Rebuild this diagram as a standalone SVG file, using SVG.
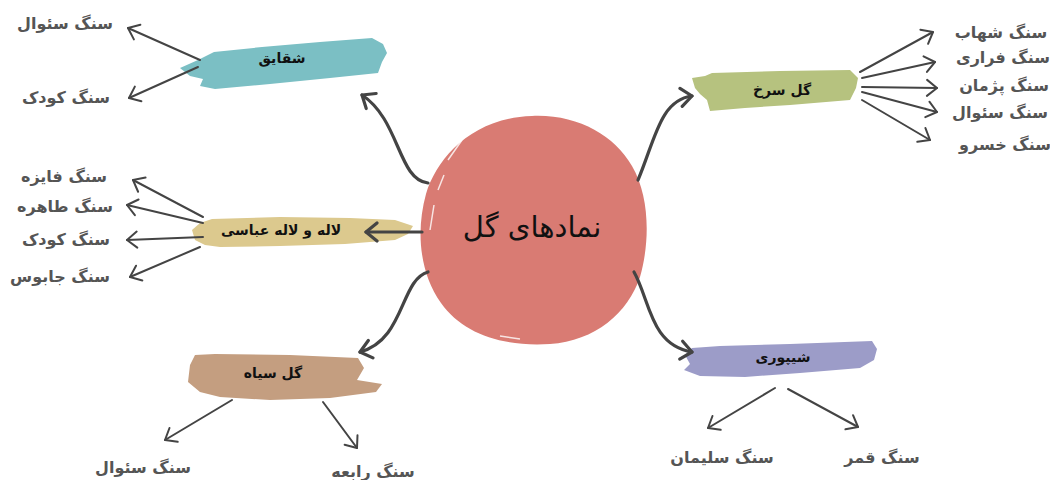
<svg xmlns="http://www.w3.org/2000/svg" width="1050" height="480" viewBox="0 0 1050 480">
<style>
.leaf{font-family:"DejaVu Sans","Noto Sans",sans-serif;font-size:16px;font-weight:bold;fill:#555;direction:rtl;}
.node{font-family:"DejaVu Sans","Noto Sans",sans-serif;font-size:14px;font-weight:bold;fill:#111;direction:rtl;}
.main{stroke:#444;stroke-width:3.2;fill:none;stroke-linecap:round;}
.thin{stroke:#444;stroke-width:2;fill:none;stroke-linecap:round;}
</style>
<defs>
<marker id="ah" markerUnits="userSpaceOnUse" markerWidth="22" markerHeight="24" refX="13" refY="11" orient="auto" viewBox="0 0 22 22">
<path d="M2,2 L13,11 L2,20" fill="none" stroke="#444" stroke-width="3.2" stroke-linecap="round" stroke-linejoin="round"/>
</marker>
<marker id="at" markerUnits="userSpaceOnUse" markerWidth="20" markerHeight="20" refX="12" refY="10" orient="auto" viewBox="0 0 20 20">
<path d="M2,2 L12,10 L2,18" fill="none" stroke="#444" stroke-width="2" stroke-linecap="round" stroke-linejoin="round"/>
</marker>
</defs>
<rect width="1050" height="480" fill="#fff"/>

<g id="center">
<path d="M532,116 C577,114 614,135 632,166 C650,197 650,242 640,277 C628,313 595,341 550,344 C503,347 463,334 441,303 C419,272 416,230 426,194 C437,158 472,118 532,116 Z" fill="#d97b73"/>
<path d="M448,160 L462,140 M438,190 L444,175 M430,230 L434,205 M640,290 L632,310 M500,336 L520,339" stroke="#fff" stroke-width="1.5" fill="none" opacity="0.8"/>
<text x="532" y="237" font-family="DejaVu Sans, Noto Sans, sans-serif" font-size="29" fill="#111" text-anchor="middle" direction="rtl">نمادهای گل</text>
</g>

<g id="n-shaghayegh">
<path d="M180,68 L198,60 L214,52 L262,47 L320,42 L372,38 L383,44 L387,53 L382,62 L378,73 L330,78 L270,84 L215,89 L200,86 L203,79 L190,76 Z" fill="#7bbfc4"/>
<text class="node" x="282" y="63" text-anchor="middle">شقایق</text>
</g>

<g id="n-golsorkh">
<path d="M692,78 L705,76 L712,73 L780,71 L850,70 L858,78 L856,88 L850,100 L790,105 L745,108 L710,111 L707,100 L700,94 L695,88 Z" fill="#b6c27f"/>
<text class="node" x="782" y="95" text-anchor="middle">گل سرخ</text>
</g>

<g id="n-laleh">
<path d="M192,230 L200,223 L212,219 L280,217 L350,218 L395,220 L413,226 L408,234 L395,240 L345,244 L280,246 L220,247 L205,245 L195,240 Z" fill="#dcc98e"/>
<text class="node" x="281" y="235" text-anchor="middle">لاله و لاله عباسی</text>
</g>

<g id="n-golsiah">
<path d="M190,365 L195,355 L215,354 L290,355 L358,358 L364,368 L357,380 L382,384 L376,392 L330,398 L270,400 L220,397 L200,392 L188,382 Z" fill="#c49e80"/>
<text class="node" x="273" y="378" text-anchor="middle">گل سیاه</text>
</g>

<g id="n-sheypouri">
<path d="M685,355 L692,348 L720,346 L790,344 L872,341 L877,349 L874,360 L860,368 L800,373 L745,377 L700,376 L684,370 L690,364 Z" fill="#9c9cc8"/>
<text class="node" x="783" y="362" text-anchor="middle">شیپوری</text>
</g>

<g id="leaves">
<text class="leaf" x="65" y="29" text-anchor="middle">سنگ سئوال</text>
<text class="leaf" x="66" y="103" text-anchor="middle">سنگ کودک</text>
<text class="leaf" x="1001" y="38" text-anchor="middle">سنگ شهاب</text>
<text class="leaf" x="1003" y="63" text-anchor="middle">سنگ فراری</text>
<text class="leaf" x="1004" y="91" text-anchor="middle">سنگ پژمان</text>
<text class="leaf" x="1000" y="118" text-anchor="middle">سنگ سئوال</text>
<text class="leaf" x="1005" y="150" text-anchor="middle">سنگ خسرو</text>
<text class="leaf" x="64" y="182" text-anchor="middle">سنگ فایزه</text>
<text class="leaf" x="65" y="212" text-anchor="middle">سنگ طاهره</text>
<text class="leaf" x="66" y="245" text-anchor="middle">سنگ کودک</text>
<text class="leaf" x="60" y="282" text-anchor="middle">سنگ جابوس</text>
<text class="leaf" x="143" y="473" text-anchor="middle">سنگ سئوال</text>
<text class="leaf" x="373" y="477" text-anchor="middle">سنگ رابعه</text>
<text class="leaf" x="722" y="463" text-anchor="middle">سنگ سلیمان</text>
<text class="leaf" x="882" y="463" text-anchor="middle">سنگ قمر</text>
</g>

<g id="connectors">
<path class="main" d="M428,183 C398,180 400,120 362,95" marker-end="url(#ah)"/>
<path class="main" d="M638,180 C655,140 660,100 692,96" marker-end="url(#ah)"/>
<path class="main" d="M422,232 L366,232" marker-end="url(#ah)"/>
<path class="main" d="M428,272 C400,280 405,340 360,352" marker-end="url(#ah)"/>
<path class="main" d="M634,272 C650,300 650,345 692,352" marker-end="url(#ah)"/>

<path class="thin" d="M200,60 L128,28" marker-end="url(#at)"/>
<path class="thin" d="M198,67 L129,98" marker-end="url(#at)"/>

<path class="thin" d="M860,72 L933,32" marker-end="url(#at)"/>
<path class="thin" d="M862,78 L935,62" marker-end="url(#at)"/>
<path class="thin" d="M862,87 L937,88" marker-end="url(#at)"/>
<path class="thin" d="M862,92 L937,112" marker-end="url(#at)"/>
<path class="thin" d="M862,100 L930,140" marker-end="url(#at)"/>

<path class="thin" d="M203,217 L133,180" marker-end="url(#at)"/>
<path class="thin" d="M203,223 L127,205" marker-end="url(#at)"/>
<path class="thin" d="M203,237 L127,240" marker-end="url(#at)"/>
<path class="thin" d="M200,247 L130,277" marker-end="url(#at)"/>

<path class="thin" d="M232,400 L165,440" marker-end="url(#at)"/>
<path class="thin" d="M323,402 L357,448" marker-end="url(#at)"/>

<path class="thin" d="M775,388 L708,428" marker-end="url(#at)"/>
<path class="thin" d="M788,389 L858,427" marker-end="url(#at)"/>
</g>
</svg>
